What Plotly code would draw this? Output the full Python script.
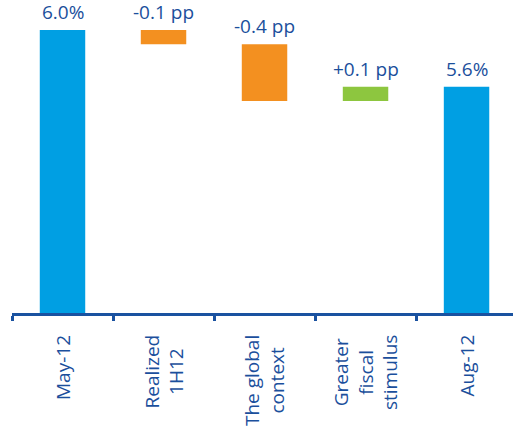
import plotly.graph_objects as go

categories = ["May-12", "Realized<br>1H12", "The global<br>context", "Greater<br>fiscal<br>stimulus", "Aug-12"]
measures = ["absolute", "relative", "relative", "relative", "absolute"]
values = [6.0, -0.1, -0.4, 0.1, 5.6]
labels = ["6.0%", "-0.1 pp", "-0.4 pp", "+0.1 pp", "5.6%"]
colors = ["#009FE3", "#F39020", "#F39020", "#8DC63F", "#009FE3"]

TEXT = "#1B4F9C"
FONT = "Open Sans, sans-serif"

bases, heights, tops = [], [], []
level = 0.0
for m, v in zip(measures, values):
    if m == "absolute":
        bases.append(0.0)
        heights.append(v)
        level = v
        tops.append(v)
    else:
        lo = min(level, level + v)
        bases.append(lo)
        heights.append(abs(v))
        level = level + v
        tops.append(lo + abs(v))

fig = go.Figure()
fig.add_trace(go.Bar(
    x=categories, y=heights, base=bases,
    marker=dict(color=colors, line=dict(width=0)),
    width=0.45, hoverinfo="skip",
))

for c, t, lab in zip(categories, tops, labels):
    fig.add_annotation(x=c, y=t, text=lab, showarrow=False,
                       xanchor="center", yanchor="bottom", yshift=3,
                       font=dict(family=FONT, size=19, color=TEXT))

for c in categories:
    fig.add_annotation(x=c, y=0, xref="x", yref="paper", text=c, showarrow=False,
                       textangle=-90, align="center",
                       xanchor="center", yanchor="top", yshift=-20,
                       font=dict(family=FONT, size=19, color=TEXT))

fig.update_layout(
    width=513, height=436,
    margin=dict(l=12, r=0, t=20, b=123),
    paper_bgcolor="white", plot_bgcolor="white",
    showlegend=False,
    xaxis=dict(
        range=[-0.5, 4.46],
        showline=True, linecolor="#1A52A0", linewidth=3,
        ticks="outside", tickson="boundaries", ticklen=5, tickwidth=3, tickcolor="#1A52A0",
        showticklabels=False,
        showgrid=False, zeroline=False,
    ),
    yaxis=dict(range=[4.01, 6.07], visible=False, showgrid=False, zeroline=False),
)

fig.write_html("out.html")
